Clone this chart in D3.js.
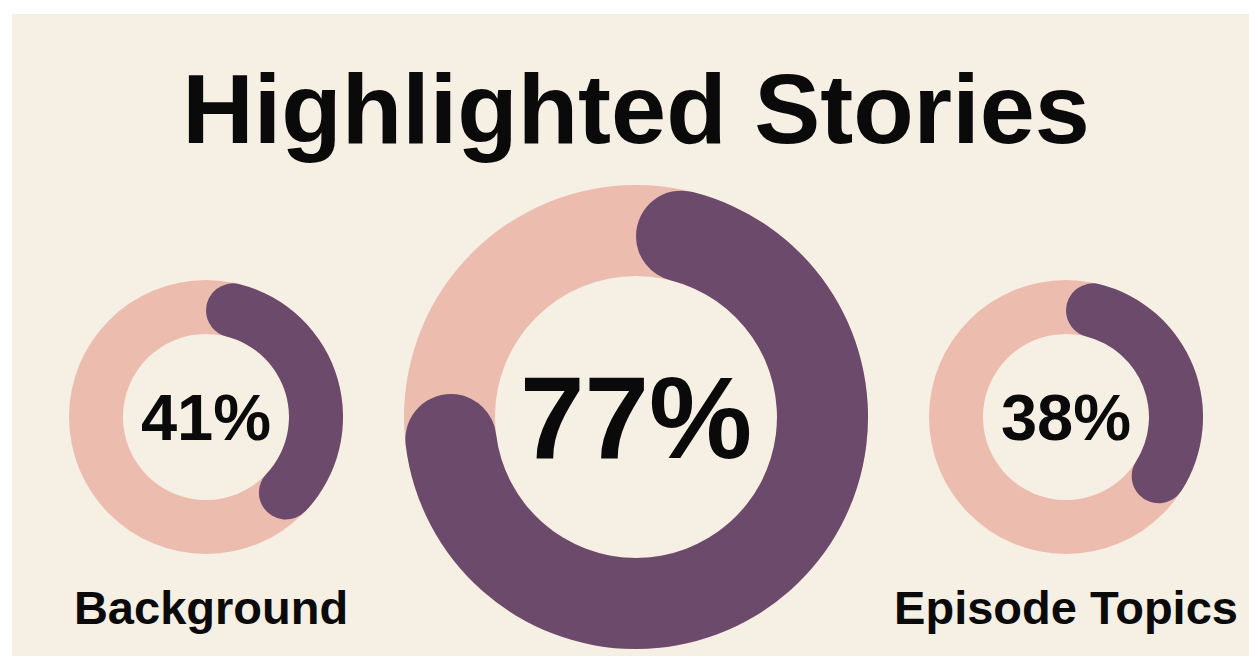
<!DOCTYPE html>
<html>
<head>
<meta charset="utf-8">
<script src="https://cdn.jsdelivr.net/npm/d3@7"></script>
<style>
  html, body { margin: 0; padding: 0; background: #ffffff; }
  svg { display: block; }
</style>
</head>
<body>
<svg id="chart" width="1249" height="656"></svg>
<script>
// Story shares shown as rings
const title = "Highlighted Stories";
const labels = ["Background", "", "Episode Topics"];
const values = [41, 77, 38];

const W = 1249, H = 656;
const colors = { bg: "#f6efe4", track: "#ecbdae", fill: "#6b4a6b", ink: "#0a0a0a" };
const font = "'Liberation Sans', Arial, Helvetica, sans-serif";

const svg = d3.select("#chart");

// panel
svg.append("rect")
  .attr("x", 12).attr("y", 14)
  .attr("width", W - 12).attr("height", H - 14)
  .attr("fill", colors.bg);

// title
svg.append("text")
  .attr("x", 636).attr("y", 143)
  .attr("text-anchor", "middle")
  .attr("font-family", font)
  .attr("font-weight", 700)
  .attr("font-size", 99)
  .attr("fill", colors.ink)
  .text(title);

// ring centres
const x = d3.scalePoint().domain(d3.range(values.length)).range([206, 1066]);
const cy = 417;
const maxVal = d3.max(values);

// the largest share gets the big ring
const ringSize = v => v === maxVal ? { outer: 232, inner: 141, fs: 116 } : { outer: 137, inner: 83, fs: 65 };

const share = d3.scaleLinear().domain([0, 100]).range([0, 2 * Math.PI]);

const rings = svg.selectAll("g.ring")
  .data(values.map((v, i) => ({ v, i, label: labels[i], size: ringSize(v) })))
  .join("g")
  .attr("class", "ring")
  .attr("transform", d => `translate(${x(d.i)},${cy})`);

// full track
rings.append("path")
  .attr("fill", colors.track)
  .attr("d", d => d3.arc()
    .innerRadius(d.size.inner)
    .outerRadius(d.size.outer)
    .startAngle(0)
    .endAngle(2 * Math.PI)());

// filled share with rounded ends
rings.append("path")
  .attr("fill", colors.fill)
  .attr("d", d => d3.arc()
    .innerRadius(d.size.inner)
    .outerRadius(d.size.outer)
    .cornerRadius((d.size.outer - d.size.inner) / 2)
    .startAngle(share(0))
    .endAngle(share(d.v))());

// percentage in the middle
rings.append("text")
  .attr("text-anchor", "middle")
  .attr("y", d => d.size.fs * 0.355)
  .attr("font-family", font)
  .attr("font-weight", 700)
  .attr("font-size", d => d.size.fs)
  .attr("fill", colors.ink)
  .text(d => `${d.v}%`);

// category labels under the small rings
rings.filter(d => d.label)
  .append("text")
  .attr("text-anchor", "middle")
  .attr("x", d => d.i === 0 ? 5 : 0)
  .attr("y", 624 - cy)
  .attr("font-family", font)
  .attr("font-weight", 700)
  .attr("font-size", 47)
  .attr("fill", colors.ink)
  .text(d => d.label);
</script>
</body>
</html>
